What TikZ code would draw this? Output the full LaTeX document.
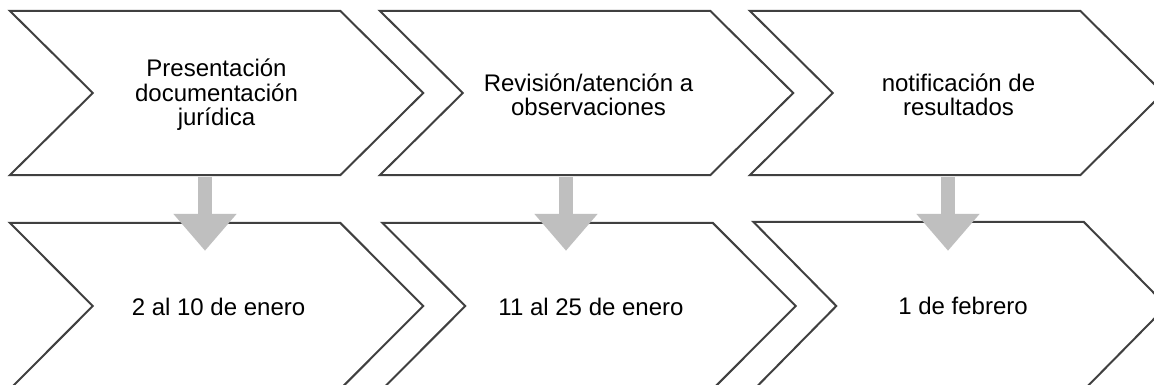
\documentclass[tikz,border=0pt]{standalone}
\usepackage{fontspec}
\setmainfont{Liberation Sans}
\usetikzlibrary{arrows.meta,calc}
\definecolor{edge}{HTML}{404040}
\definecolor{arrowgrey}{HTML}{BFBFBF}
\tikzset{
  chevbox/.style={draw=none, minimum width=413pt, minimum height=164pt, inner sep=0pt,
    font=\fontsize{24pt}{24.5pt}\selectfont, align=center, text=black},
  chevline/.style={draw=edge, line width=2pt, fill=white, line join=miter},
  bigarrow/.style={draw=arrowgrey, line width=14pt,
    -{Triangle[width=61pt,length=37pt]}, arrowgrey}
}
\newcommand{\chevpath}[1]{%
  \draw[chevline] (#1.north west) -- ($(#1.north east)+(-83,0)$) -- (#1.east)
    -- ($(#1.south east)+(-83,0)$) -- (#1.south west) -- ($(#1.west)+(83,0)$) -- cycle;}
\begin{document}
\begin{tikzpicture}[x=1pt,y=-1pt]
\useasboundingbox (0,0) rectangle (1154,385);
\clip (0,0) rectangle (1154,385);
\fill[white] (0,0) rectangle (1154,385);
% top row
\node[chevbox] (c1) at (216.5,93) {};
\node[chevbox] (c2) at (586.5,93) {};
\node[chevbox] (c3) at (956.5,93) {};
% bottom row
\node[chevbox, minimum height=166pt] (d1) at (216.5,306) {};
\node[chevbox, minimum height=166pt] (d2) at (589,306) {};
\node[chevbox, minimum height=168pt] (d3) at (960,306) {};
\chevpath{c1}\chevpath{c2}\chevpath{c3}
\chevpath{d1}\chevpath{d2}\chevpath{d3}
\node[chevbox] at ($(c1.center)+(0,2)$) {Presentación\\documentación\\jurídica};
\node[chevbox] at ($(c2.center)+(2,2)$) {Revisión/atención a\\observaciones};
\node[chevbox] at ($(c3.center)+(2,2)$) {notificación de\\resultados};
\node[chevbox] at ($(d1.center)+(2,1)$) {2 al 10 de enero};
\node[chevbox] at ($(d2.center)+(2,1)$) {11 al 25 de enero};
\node[chevbox] at ($(d3.center)+(3,0)$) {1 de febrero};
% arrows
\draw[bigarrow] ($(c1.south)+(-11.5,2)$) -- ($(d1.north)+(-11.5,28)$);
\draw[bigarrow] ($(c2.south)+(-20.5,2)$) -- ($(d2.north)+(-23,28)$);
\draw[bigarrow] ($(c3.south)+(-8.5,2)$) -- ($(d3.north)+(-12,29)$);
\end{tikzpicture}
\end{document}
